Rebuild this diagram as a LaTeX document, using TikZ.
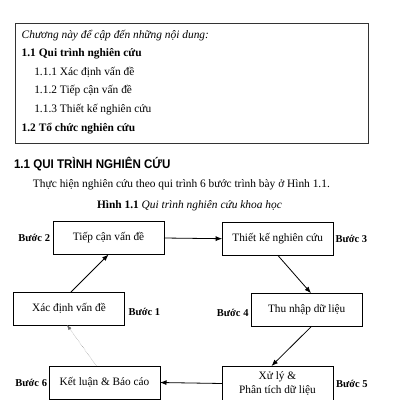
\documentclass[tikz,border=0pt]{standalone}
\usepackage{fontspec}
\setmainfont{Liberation Serif}
\newfontfamily\headfont[FakeStretch=0.92]{Liberation Sans}
\usetikzlibrary{positioning,arrows.meta}

\begin{document}
\begin{tikzpicture}[y=1pt, x=1pt, yscale=-1, inner sep=0pt, outer sep=0pt,
  stepbox/.style={draw=black, line width=0.8pt, minimum width=111pt, minimum height=33pt, align=center, font=\fontsize{11.3}{14.5}\selectfont},
  steplabel/.style={font=\bfseries\fontsize{10.5}{12}\selectfont},
  toc/.style={anchor=base west, font=\fontsize{11.4}{13}\selectfont},
  flow/.style={-{Latex[length=6.5pt,width=5pt]}, line width=0.8pt},
  back/.style={-{Latex[length=5pt,width=3.5pt]}, line width=0.4pt, black!60, densely dotted}]
\useasboundingbox (0,0) rectangle (400,400);
\draw[line width=0.9pt, black!80] (15,23) rectangle (368,143);
\node[toc] (intro) at (21.7,38) {\itshape Chương này để cập đến những nội dung:};
\node[toc] (sec11) at (21.7,56.7) {\bfseries 1.1 Qui trình nghiên cứu};
\node[toc] (sec111) at (34.3,75.5) {1.1.1 Xác định vấn đề};
\node[toc] (sec112) at (34.3,93.5) {1.1.2 Tiếp cận vấn đề};
\node[toc] (sec113) at (34.3,112.2) {1.1.3 Thiết kế nghiên cứu};
\node[toc] (sec12) at (21.7,131) {\bfseries 1.2 Tổ chức nghiên cứu};
\node[anchor=base west, font=\headfont\bfseries\fontsize{12.6}{14}\selectfont] (heading) at (14,168) {1.1 QUI TRÌNH NGHIÊN CỨU};
\node[toc] (body) at (33,187) {Thực hiện nghiên cứu theo qui trình 6 bước trình bày ở Hình 1.1.};
\node[toc] (caption) at (97,208) {\bfseries Hình 1.1 \mdseries\itshape Qui trình nghiên cứu khoa học};

\node[stepbox] (tiep) at (108.5,238) {Tiếp cận vấn đề};
\node[stepbox] (thiet) at (277.7,238.7) {Thiết kế nghiên cứu};
\node[stepbox] (xacdinh) at (69,308.5) {Xác định vấn đề};
\node[stepbox] (thunhap) at (306.7,309.7) {Thu nhập dữ liệu};
\node[stepbox] (ketluan) at (104.5,382.5) {Kết luận \& Báo cáo};
\node[stepbox, minimum height=35pt] (xuly) at (277.5,383.5) {Xử lý \&\\Phân tích dữ liệu};

\node[steplabel, left=3pt of tiep] (b2) {Bước 2};
\node[steplabel, right=2.3pt of thiet] (b3) {Bước 3};
\node[steplabel, right=4pt of xacdinh, yshift=-3pt] (b1) {Bước 1};
\node[steplabel, left=2.7pt of thunhap, yshift=-3pt] (b4) {Bước 4};
\node[steplabel, right=3pt of xuly] (b5) {Bước 5};
\node[steplabel, left=2pt of ketluan] (b6) {Bước 6};

\draw[flow] ([xshift=2pt]xacdinh.north) -- (tiep.south);
\draw[flow] (tiep.east) -- (thiet.west);
\draw[flow] (thiet.south) -- ([xshift=4.3pt]thunhap.north);
\draw[flow] ([xshift=5pt]thunhap.south) -- ([xshift=-6pt]xuly.north);
\draw[flow] (xuly.west) -- (ketluan.east);
\draw[back] ([xshift=-8pt]ketluan.north) -- ([xshift=-2pt]xacdinh.south);
\end{tikzpicture}
\end{document}
